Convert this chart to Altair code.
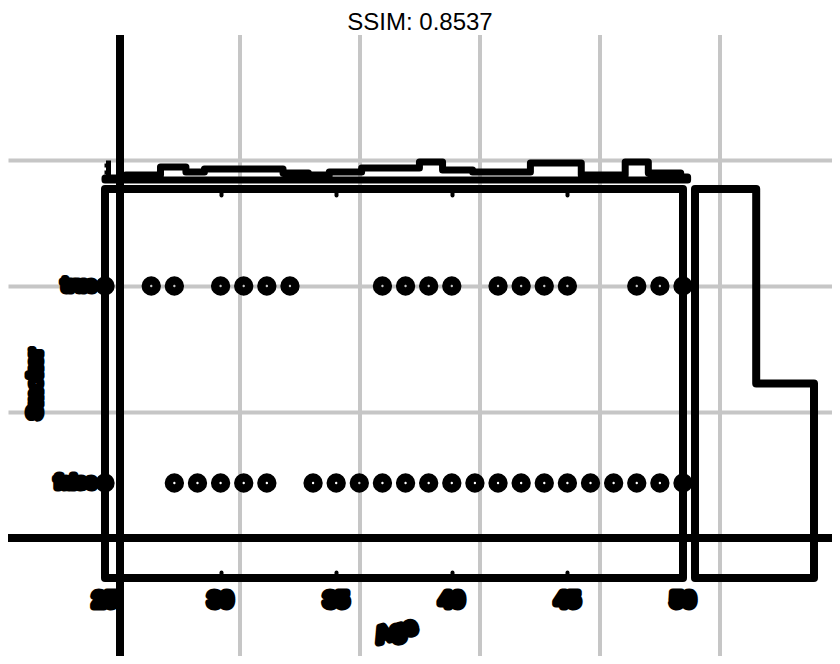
import altair as alt
import pandas as pd

# ---------------- data ----------------
title_text = "SSIM: 0.8537"
x_title = "Age"
y_title = "Smoker"
smoker_categories = ["true", "false"]
ages_true = [25, 27, 28, 30, 31, 32, 33, 37, 38, 39, 40, 42, 43, 44, 45, 48, 49, 50]
ages_false = [25, 28, 29, 30, 31, 32, 34, 35, 36, 37, 38, 39, 40, 41, 42,
              43, 44, 45, 46, 47, 48, 49, 50]
age_tick_values = [25, 30, 35, 40, 45, 50]
age_tick_labels = ["25", "30", "35", "40", "45", "50"]
age_inner_ticks = [30, 35, 40, 45]
# top marginal histogram (step outline): segment start ages and heights
top_hist_edges = [25.0, 25.9, 27.4, 28.5, 29.3, 32.7, 33.8, 34.7, 36.1, 38.6,
                  39.6, 40.9, 43.4, 45.6, 47.5, 48.5, 49.9, 50.2]
top_hist_values = [2, 5, 13, 8, 11, 7, 5, 8, 12, 18, 10, 8, 17, 5, 18, 7, 3]
top_hist_axis_ticks = [0, 8, 15]
# right marginal histogram: counts per smoker category
smoker_counts = [18, 35]
# outer grid (background chart)
outer_grid_x = [1, 2, 3, 4, 5, 6]
outer_grid_y = [1, 2, 3, 4]
outer_axis_x = [1]
outer_axis_y = [1]

# ---------------- tables ----------------
points_df = pd.DataFrame({
    "Age": ages_true + ages_false,
    "Smoker": ["true"] * len(ages_true) + ["false"] * len(ages_false),
})
top_df = pd.DataFrame({"age": top_hist_edges,
                       "v": top_hist_values + [top_hist_values[-1]]})
frame_df = pd.DataFrame({"lo": [points_df["Age"].min()], "hi": [points_df["Age"].max()],
                         "b0": [0], "b1": [len(smoker_categories)]})
path = []
for i, c in enumerate(smoker_counts):
    path += [(c, i), (c, i + 1)]
path = [(0, 0)] + path + [(0, len(smoker_counts)), (0, 0)]
right_df = pd.DataFrame({"cnt": [p[0] for p in path], "band": [p[1] for p in path],
                         "ord": list(range(len(path)))})
ticks_df = pd.DataFrame({"age": age_tick_values, "label": age_tick_labels})
ylab_df = pd.DataFrame({"Smoker": smoker_categories})

# ---------------- scales (plot area = page x-8, page y-8) ----------------
W, H = 824, 648
outer_x = alt.Scale(domain=[0, 7], range=[-8, 832])
outer_y = alt.Scale(domain=[0, 5], range=[656, 26])
age_scale = alt.Scale(domain=[25, 50], range=[97, 675])
top_y = alt.Scale(domain=[0, 20], range=[172, 152])
smoker_scale = alt.Scale(type="point", domain=smoker_categories, range=[278, 475], padding=0)
panel_y = alt.Scale(domain=[0, 2], range=[181, 570])
count_x = alt.Scale(domain=[0, 35], range=[687, 806])

GRID = "#c6c6c6"
FONT = "Liberation Sans"

# outer chart: vertical axis line + vertical gray grid (below the title)
grid_v = alt.Chart(pd.DataFrame({"gx": outer_axis_x})).mark_rule(
    color="black", strokeWidth=8).encode(
    x=alt.X("gx:Q", scale=outer_x, axis=None),
    y=alt.value(27), y2=alt.value(H))

grid_v_lines = alt.Chart(pd.DataFrame({"gx": outer_grid_x})).mark_rule(
    color=GRID, strokeWidth=4).encode(
    x=alt.X("gx:Q", scale=outer_x, axis=None),
    y=alt.value(27), y2=alt.value(H))

grid_h = alt.Chart(pd.DataFrame({"gy": outer_axis_y})).mark_rule(
    color="black", strokeWidth=8).encode(
    y=alt.Y("gy:Q", scale=outer_y, axis=alt.Axis(
        values=outer_grid_y, grid=True, gridColor=GRID, gridWidth=4, gridOpacity=1,
        labels=False, ticks=False, domain=False, title="", orient="left")))

top_hist = alt.Chart(top_df).mark_area(
    interpolate="step-after", fillOpacity=0, stroke="black", strokeWidth=7,
    strokeJoin="round").encode(
    x=alt.X("age:Q", scale=age_scale, axis=alt.Axis(
        values=age_inner_ticks, orient="bottom", offset=-(H - 181), labels=False,
        domain=False, grid=False, ticks=True, tickSize=6, tickWidth=4,
        tickColor="black", tickCap="round", title="")),
    y=alt.Y("v:Q", scale=top_y, axis=alt.Axis(
        values=top_hist_axis_ticks, orient="left", offset=-100, labels=False,
        grid=False, domain=True, domainColor="black", domainWidth=5,
        ticks=True, tickSize=4, tickWidth=4, tickColor="black", title="")))

frame = alt.Chart(frame_df).mark_rect(
    fillOpacity=0, stroke="black", strokeWidth=8, strokeJoin="round").encode(
    x=alt.X("lo:Q", scale=age_scale, axis=None), x2="hi:Q",
    y=alt.Y("b0:Q", scale=panel_y, axis=None), y2="b1:Q")

pts = alt.Chart(points_df).mark_point(
    shape="circle", filled=False, size=118, strokeWidth=8.5, color="black",
    opacity=1).encode(
    x=alt.X("Age:Q", scale=age_scale, axis=alt.Axis(
        values=age_inner_ticks, orient="top", offset=-570, labels=False,
        domain=False, grid=False, ticks=True, tickSize=6, tickWidth=4,
        tickColor="black", tickCap="round", title="")),
    y=alt.Y("Smoker:N", scale=smoker_scale, axis=None))

right_hist = alt.Chart(right_df).mark_line(
    color="black", strokeWidth=8, strokeJoin="round", strokeCap="round").encode(
    x=alt.X("cnt:Q", scale=count_x, axis=None),
    y=alt.Y("band:Q", scale=panel_y, axis=None),
    order="ord:Q")

blob = dict(font=FONT, fontWeight="bold", color="black", stroke="black",
            strokeWidth=7, strokeJoin="round")

tick_text = alt.Chart(ticks_df).mark_text(fontSize=22, baseline="middle", **blob).encode(
    x=alt.X("age:Q", scale=age_scale, axis=None), y=alt.value(592), text="label:N")

ylab_text = alt.Chart(ylab_df).mark_text(fontSize=18, align="right", baseline="middle",
                                         **blob).encode(
    x=alt.value(88), y=alt.Y("Smoker:N", scale=smoker_scale, axis=None), text="Smoker:N")

xtitle = alt.Chart(pd.DataFrame({"t": [x_title]})).mark_text(
    fontSize=22, angle=345, baseline="middle", **blob).encode(
    x=alt.value(388), y=alt.value(623), text="t:N")

ytitle = alt.Chart(pd.DataFrame({"t": [y_title]})).mark_text(
    fontSize=19, angle=270, baseline="middle", **blob).encode(
    x=alt.value(27), y=alt.value(376), text="t:N")

title = alt.Chart(pd.DataFrame({"t": [title_text]})).mark_text(
    font=FONT, fontSize=24, color="black", align="center",
    baseline="alphabetic").encode(
    x=alt.value(412), y=alt.value(22), text="t:N")

chart = alt.layer(
    grid_v_lines, grid_h, grid_v, top_hist, frame, right_hist, pts, tick_text,
    ylab_text, xtitle, ytitle, title
).resolve_scale(x="independent", y="independent").properties(
    width=W, height=H,
    autosize=alt.AutoSizeParams(type="none"),
    padding=0,
).configure_view(stroke="transparent")

chart.save("out.html", embed_options={"renderer": "svg", "actions": False})
